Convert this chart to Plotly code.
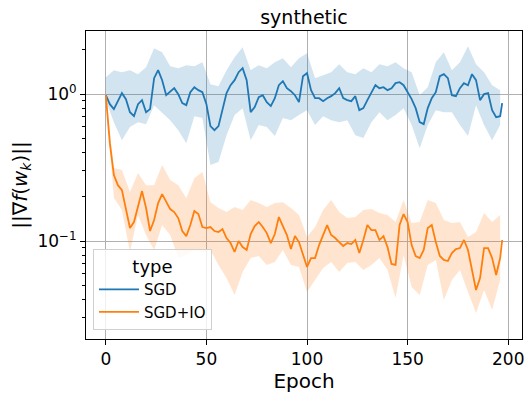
import plotly.graph_objects as go

# epochs (mean lines read every 2 epochs, bands every 4)
epochs = list(range(0, 197, 2)) + [197]
band_epochs = list(range(0, 197, 4))

sgd_mean = [0.984, 0.855, 0.791, 0.896, 1.016, 0.925, 0.754, 0.708, 0.855, 0.910,
            0.754, 0.791, 1.285, 1.456, 1.245, 0.984, 1.032, 1.098, 1.0, 0.869,
            0.842, 1.032, 1.116, 1.065, 1.032, 0.855, 0.606, 0.569, 0.606, 0.778,
            1.016, 1.151, 1.245, 1.411, 1.503, 1.245, 0.754, 0.816, 0.954, 0.984,
            0.882, 0.829, 0.939, 1.151, 1.226, 1.098, 1.048, 0.984, 0.882, 1.326,
            1.390, 1.065, 0.939, 0.939, 0.896, 0.939, 0.969, 1.016, 1.098, 0.939,
            0.910, 0.896, 0.969, 0.778, 0.803, 0.910, 1.032, 1.151, 1.098, 1.116,
            1.065, 1.098, 1.188, 1.207, 1.151, 1.032, 0.925, 0.803, 0.645, 0.625,
            0.803, 0.939, 1.032, 1.326, 1.368, 1.285, 0.984, 0.969, 1.098, 1.188,
            1.151, 1.368, 1.245, 0.910, 1.0, 1.016, 0.778, 0.697, 0.708, 0.869]
sgd_hi = [1.305, 1.457, 1.411, 1.457, 1.368, 1.527, 2.056, 1.931, 1.551, 1.503,
          1.575, 1.551, 1.651, 1.170, 1.134, 1.457, 1.785, 2.088, 1.457, 1.575,
          1.503, 1.651, 1.758, 1.527, 1.758, 1.901, 1.285, 1.347, 1.411, 1.600,
          1.411, 1.368, 1.503, 1.411, 1.600, 1.551, 1.651, 1.503, 1.411, 0.984,
          1.116, 1.651, 1.931, 1.457, 1.651, 2.121, 1.600, 1.411, 1.151, 1.065]
sgd_lo = [0.910, 0.645, 0.486, 0.597, 0.645, 0.625, 0.842, 0.754, 0.665, 0.569,
          0.464, 0.708, 0.687, 0.329, 0.345, 0.526, 0.720, 0.803, 0.486, 0.616,
          0.597, 0.518, 0.687, 0.665, 0.720, 0.778, 0.616, 0.708, 0.665, 0.645,
          0.665, 0.526, 0.502, 0.645, 0.754, 0.665, 0.720, 0.803, 0.616, 0.429,
          0.616, 0.778, 0.754, 0.754, 0.616, 0.518, 0.842, 0.616, 0.486, 0.616]

io_mean = [0.984, 0.464, 0.281, 0.240, 0.222, 0.165, 0.1226, 0.1347, 0.1703, 0.2188,
           0.1677, 0.1170, 0.139, 0.1813, 0.2088, 0.1871, 0.165, 0.1575, 0.1434, 0.117,
           0.1081, 0.1285, 0.160, 0.1527, 0.1245, 0.1226, 0.1245, 0.117, 0.1151, 0.1207,
           0.1048, 0.0969, 0.0842, 0.100, 0.0910, 0.0869, 0.1116, 0.1265, 0.1347, 0.1245,
           0.1133, 0.0969, 0.1116, 0.1456, 0.1265, 0.1099, 0.0882, 0.1081, 0.0984, 0.0803,
           0.0666, 0.0766, 0.0766, 0.0939, 0.1099, 0.1285, 0.1099, 0.1048, 0.0984, 0.0925,
           0.0969, 0.0954, 0.1016, 0.0829, 0.1016, 0.1285, 0.1188, 0.1188, 0.1016, 0.1081,
           0.0910, 0.0698, 0.0687, 0.1285, 0.1527, 0.1347, 0.0939, 0.0791, 0.0766, 0.0869,
           0.1226, 0.1285, 0.0984, 0.0791, 0.0743, 0.0731, 0.0829, 0.0882, 0.0896, 0.1016,
           0.0869, 0.0615, 0.0464, 0.0560, 0.0896, 0.0896, 0.0766, 0.0587, 0.0766, 0.1016]
io_hi = [0.984, 0.314, 0.304, 0.2154, 0.290, 0.240, 0.240, 0.329, 0.260, 0.240,
         0.196, 0.268, 0.2947, 0.184, 0.1677, 0.1575, 0.1703, 0.1625, 0.190, 0.1813,
         0.1703, 0.1813, 0.184, 0.1677, 0.1502, 0.1065, 0.1245, 0.1625, 0.190, 0.1575,
         0.1434, 0.1456, 0.1625, 0.165, 0.155, 0.1502, 0.1347, 0.190, 0.1326, 0.1347,
         0.190, 0.1813, 0.139, 0.1326, 0.1347, 0.1065, 0.1151, 0.155, 0.1347, 0.1502]
io_lo = [0.984, 0.196, 0.1625, 0.0842, 0.1502, 0.1099, 0.0869, 0.1285, 0.1099, 0.0766,
         0.0803, 0.0869, 0.0842, 0.0869, 0.0687, 0.0560, 0.0429, 0.0615, 0.0766, 0.0791,
         0.0687, 0.0720, 0.0869, 0.0687, 0.0666, 0.0450, 0.0543, 0.0655, 0.0720, 0.0615,
         0.0709, 0.0720, 0.0635, 0.0687, 0.0766, 0.0635, 0.0410, 0.0803, 0.0486, 0.0429,
         0.0687, 0.0743, 0.0397, 0.0543, 0.0635, 0.0450, 0.0324, 0.0464, 0.0339, 0.0543]

series = [
    ("SGD", sgd_mean, sgd_lo, sgd_hi, "#1f77b4", "rgba(31,119,180,0.2)"),
    ("SGD+IO", io_mean, io_lo, io_hi, "#ff7f0e", "rgba(255,127,14,0.2)"),
]

FONT = "DejaVu Sans"
fig = go.Figure()

# confidence bands first
for name, mean, lo, hi, color, fillc in series:
    fig.add_trace(go.Scatter(
        x=band_epochs + band_epochs[::-1],
        y=hi + lo[::-1],
        fill="toself", fillcolor=fillc,
        line=dict(width=0), mode="lines",
        hoverinfo="skip", showlegend=False,
    ))

for name, mean, lo, hi, color, fillc in series:
    fig.add_trace(go.Scatter(
        x=epochs, y=mean, mode="lines", name=name,
        line=dict(color=color, width=1.8),
    ))

# page body has an 8px margin, so the figure is a little smaller than the window
fig.update_layout(
    width=524, height=391,
    margin=dict(l=78, r=10, t=23, b=60),
    paper_bgcolor="white", plot_bgcolor="white",
    font=dict(family=FONT, color="black", size=16),
    title=dict(text="synthetic", x=0.5, xref="paper", xanchor="center",
               y=0.976, yanchor="middle", font=dict(size=19)),
    legend=dict(
        title=dict(text="type", side="top center", font=dict(size=18)),
        x=0.016, y=0.03, xanchor="left", yanchor="bottom",
        bgcolor="rgba(255,255,255,0.8)", bordercolor="#d0d0d0", borderwidth=1,
        font=dict(size=15), tracegroupgap=0, itemwidth=40,
    ),
    showlegend=True,
)

fig.update_xaxes(
    range=[-9.85, 206.85], tickvals=[0, 50, 100, 150, 200],
    automargin=False,
    showgrid=True, gridcolor="#b0b0b0", gridwidth=1,
    showline=True, linecolor="black", linewidth=1, mirror=True,
    ticks="outside", ticklen=5, tickcolor="black",
    zeroline=False, tickfont=dict(size=17),
    title=dict(text="Epoch", font=dict(size=20), standoff=4),
)
fig.update_yaxes(
    type="log", range=[-1.667, 0.43],
    automargin=False,
    tickvals=[0.1, 1], ticktext=["10<sup>−1</sup>", "10<sup>0</sup>"],
    showgrid=True, gridcolor="#b0b0b0", gridwidth=1,
    showline=True, linecolor="black", linewidth=1, mirror=True,
    ticks="outside", ticklen=5, tickcolor="black",
    minor=dict(tickvals=[0.03, 0.04, 0.05, 0.06, 0.07, 0.08, 0.09,
                         0.2, 0.3, 0.4, 0.5, 0.6, 0.7, 0.8, 0.9, 2],
               ticks="outside", ticklen=3, tickcolor="black", showgrid=False),
    zeroline=False, tickfont=dict(size=17),
    title=dict(text="||∇<i>f</i>(<i>w</i><sub><i>k</i></sub>)||",
               font=dict(size=20), standoff=10),
)

fig.write_html("out.html")
